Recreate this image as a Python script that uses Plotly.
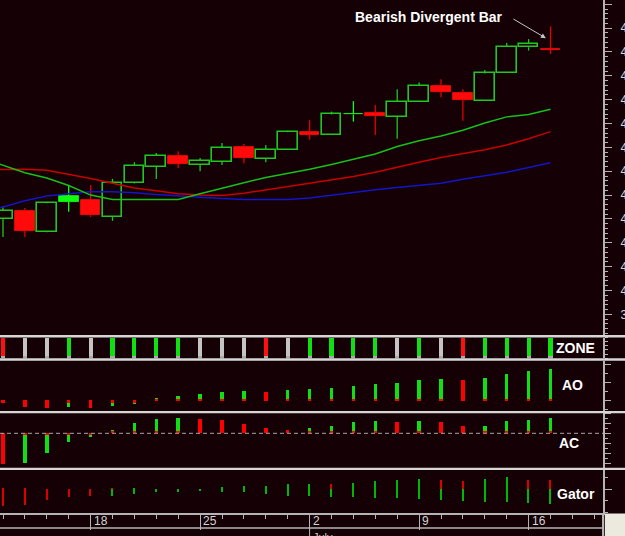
import plotly.graph_objects as go

# ---------------- data ----------------
idx = list(range(26))
opens  = [41.50, 41.67, 41.23, 41.98, 41.90, 41.54, 42.25, 42.59, 42.82, 42.63, 42.70, 43.01, 42.76,
          42.95, 43.32, 43.27, 43.71, 43.715, 43.64, 43.96, 44.29, 44.14, 43.98, 44.55, 45.10, 45.06]
highs  = [41.77, 41.73, 41.86, 42.21, 42.21, 42.34, 42.69, 42.88, 42.92, 42.78, 43.09, 43.07, 43.05,
          43.35, 43.57, 43.75, 43.97, 43.89, 44.22, 44.36, 44.43, 44.22, 44.62, 45.19, 45.27, 45.54]
lows   = [41.12, 41.12, 41.22, 41.65, 41.54, 41.46, 42.24, 42.34, 42.57, 42.50, 42.63, 42.67, 42.69,
          42.95, 43.16, 43.27, 43.54, 43.26, 43.18, 43.96, 44.05, 43.56, 43.98, 44.55, 45.03, 44.96]
closes = [41.67, 41.25, 41.83, 41.86, 41.58, 42.25, 42.61, 42.82, 42.65, 42.72, 42.99, 42.78, 42.95,
          43.32, 43.27, 43.69, 43.69, 43.665, 43.96, 44.29, 44.17, 44.00, 44.55, 45.11, 45.17, 45.05]
tone   = ["g", "r", "g", "g", "r", "g", "g", "g", "r", "g", "g", "r", "g",
          "g", "r", "g", "g", "r", "g", "g", "r", "r", "g", "g", "g", "r"]

line_x = list(range(-1, 26))
jaw   = [41.65, 41.75, 41.88, 41.98, 42.03, 42.07, 42.07, 42.05, 42.01, 41.98, 41.95, 41.93, 41.91, 41.91,
         41.91, 41.94, 42.00, 42.05, 42.11, 42.16, 42.20, 42.25, 42.33, 42.40, 42.48, 42.58, 42.68]
teeth = [42.53, 42.53, 42.54, 42.52, 42.44, 42.35, 42.25, 42.15, 42.09, 42.03, 42.00, 41.99, 42.04, 42.11,
         42.18, 42.24, 42.31, 42.39, 42.48, 42.59, 42.69, 42.79, 42.87, 42.95, 43.05, 43.18, 43.33]
lips  = [42.78, 42.62, 42.47, 42.36, 42.20, 42.00, 41.91, 41.91, 41.91, 41.91, 42.03, 42.15, 42.26, 42.37,
         42.45, 42.54, 42.64, 42.75, 42.86, 43.02, 43.14, 43.24, 43.36, 43.51, 43.64, 43.69, 43.80]

zone = ["r", "x", "x", "g", "x", "g", "g", "g", "g", "x", "x", "x", "r",
        "x", "g", "g", "g", "g", "x", "g", "x", "r", "g", "g", "g", "g"]

ao = [-0.03, -0.18, -0.21, -0.16, -0.21, -0.15, -0.08, 0.08, 0.13, 0.18, 0.25, 0.26, 0.24,
      0.29, 0.32, 0.34, 0.42, 0.47, 0.50, 0.56, 0.61, 0.58, 0.64, 0.74, 0.81, 0.86]
ao_tone = ["r", "r", "r", "g", "r", "g", "g", "g", "g", "g", "g", "g", "r",
           "g", "g", "g", "g", "g", "g", "g", "g", "r", "g", "g", "g", "g"]

ac = [-0.31, -0.30, -0.20, -0.09, -0.04, 0.03, 0.10, 0.14, 0.15, 0.14, 0.13, 0.09, 0.05,
      0.03, 0.05, 0.07, 0.11, 0.12, 0.11, 0.12, 0.115, 0.07, 0.075, 0.12, 0.13, 0.15]
ac_tone = ["r", "g", "g", "g", "g", "g", "g", "g", "g", "r", "r", "r", "r",
           "r", "g", "g", "g", "g", "r", "g", "r", "r", "g", "g", "g", "g"]

gator_up = [0.005, 0.005, 0.003, 0.003, 0.003, 0.007, 0.007, 0.0, 0.003, 0.003, 0.026, 0.036, 0.036,
            0.050, 0.053, 0.053, 0.066, 0.083, 0.090, 0.103, 0.093, 0.083, 0.103, 0.126, 0.093, 0.093]
gator_up_tone = ["r", "r", "r", "r", "r", "r", "g", "g", "g", "g", "g", "g", "g",
                 "g", "g", "r", "g", "g", "g", "g", "r", "r", "g", "g", "r", "r"]
gator_dn = [-0.167, -0.157, -0.107, -0.074, -0.064, -0.064, -0.047, -0.030, -0.030, -0.017, -0.024, -0.030, -0.047,
            -0.064, -0.064, -0.074, -0.074, -0.084, -0.090, -0.097, -0.107, -0.117, -0.130, -0.130, -0.134, -0.147]
gator_dn_tone = ["r", "r", "r", "r", "r", "g", "g", "g", "g", "g", "g", "g", "g",
                 "g", "g", "g", "g", "g", "g", "g", "g", "g", "g", "g", "g", "g"]

week_ticks = [4, 9, 14, 19, 24]
week_labels = ["18", "25", "2", "9", "16"]
month_tick = 14
month_label = "July"

# ---------------- style ----------------
BG = "#150006"
AXC = "#b4b4b4"
HOLLOW = "#1ec81e"
FGREEN = "#10ff10"
RED = "#ff0a0a"
WICK_RED = "#e00000"
TXT = "#ffffff"
FONT = "Liberation Sans, Arial, sans-serif"
PH = 513.0  # plot height in px
X_RANGE = [-0.137, 27.397]


def py(px):
    return 1 - px / PH


fig = go.Figure()

# ---- candle bodies ----
def body_trace(sel, fill, outline, lw):
    xs = [i for i in idx if sel(i)]
    base = [min(opens[i], closes[i]) for i in xs]
    hgt = [max(abs(closes[i] - opens[i]), 0.02) for i in xs]
    return go.Bar(x=xs, y=hgt, base=base, width=0.9, marker=dict(color=fill, line=dict(color=outline, width=lw)),
                  xaxis="x", yaxis="y", opacity=1, hoverinfo="skip")

fig.add_trace(body_trace(lambda i: closes[i] > opens[i], BG, HOLLOW, 1.6))
fig.add_trace(body_trace(lambda i: closes[i] <= opens[i] and tone[i] == "g", FGREEN, FGREEN, 0.8))
fig.add_trace(body_trace(lambda i: closes[i] <= opens[i] and tone[i] == "r", RED, RED, 0.8))

# ---- wicks ----
wick_groups = {HOLLOW: ([], []), FGREEN: ([], []), WICK_RED: ([], [])}
for i in idx:
    if tone[i] == "r":
        col = WICK_RED
    elif closes[i] > opens[i]:
        col = HOLLOW
    else:
        col = FGREEN
    top = max(opens[i], closes[i])
    bot = min(opens[i], closes[i])
    xs, ys = wick_groups[col]
    if highs[i] > top:
        xs += [i, i, None]
        ys += [top, highs[i], None]
    if lows[i] < bot:
        xs += [i, i, None]
        ys += [lows[i], bot, None]
for col, (xs, ys) in wick_groups.items():
    fig.add_trace(go.Scatter(x=xs, y=ys, mode="lines", line=dict(color=col, width=1.3),
                             xaxis="x", yaxis="y", hoverinfo="skip"))

# ---- alligator ----
for vals, col in [(jaw, "#1414c8"), (teeth, "#c80000"), (lips, "#18c018")]:
    fig.add_trace(go.Scatter(x=line_x, y=vals, mode="lines", line=dict(color=col, width=1.5),
                             xaxis="x", yaxis="y", hoverinfo="skip"))

# ---- zone ----
zcol = {"r": "#ff1010", "g": "#10e010", "x": "#c4c4c4"}
fig.add_trace(go.Bar(x=idx, y=[1] * len(idx), base=0, width=0.19,
                     marker=dict(color=[zcol[z] for z in zone], line=dict(width=0)),
                     xaxis="x2", yaxis="y2", opacity=1, hoverinfo="skip"))
fig.add_trace(go.Bar(x=idx, y=[0.15] * len(idx), base=0, width=0.19,
                     marker=dict(color="#a8a8a8", line=dict(width=0)),
                     xaxis="x2", yaxis="y2", opacity=1, hoverinfo="skip"))

# ---- AO ----
hcol = {"r": "#ff0000", "g": "#10e010"}
fig.add_trace(go.Bar(x=idx, y=ao, base=0, width=0.16,
                     marker=dict(color=[hcol[t] for t in ao_tone], line=dict(width=0)),
                     xaxis="x3", yaxis="y3", opacity=1, hoverinfo="skip"))
fig.add_trace(go.Bar(x=idx, y=[0.05 if v >= 0 else -0.05 for v in ao], base=0, width=0.16,
                     marker=dict(color="#ff0000", line=dict(width=0)),
                     xaxis="x3", yaxis="y3", opacity=1, hoverinfo="skip"))

# ---- AC ----
fig.add_trace(go.Bar(x=idx, y=ac, base=0, width=0.16,
                     marker=dict(color=[hcol[t] for t in ac_tone], line=dict(width=0)),
                     xaxis="x4", yaxis="y4", opacity=1, hoverinfo="skip"))
fig.add_trace(go.Bar(x=idx, y=[0.02 if v >= 0 else -0.02 for v in ac], base=0, width=0.16,
                     marker=dict(color="#ff0000", line=dict(width=0)),
                     xaxis="x4", yaxis="y4", opacity=1, hoverinfo="skip"))

# ---- Gator ----
gcol = {"r": "#d80000", "g": "#00b800"}
fig.add_trace(go.Bar(x=idx, y=gator_up, base=0, width=0.06,
                     marker=dict(color=[gcol[t] for t in gator_up_tone], line=dict(width=0)),
                     xaxis="x5", yaxis="y5", opacity=1, hoverinfo="skip"))
fig.add_trace(go.Bar(x=idx, y=gator_dn, base=0, width=0.06,
                     marker=dict(color=[gcol[t] for t in gator_dn_tone], line=dict(width=0)),
                     xaxis="x5", yaxis="y5", opacity=1, hoverinfo="skip"))

# ---------------- axes ----------------
hidden_x = dict(range=X_RANGE, showticklabels=False, ticks="", showgrid=False, zeroline=False,
                showline=False, domain=[0, 1], matches="x5")


def yax(domain, rng, anchor, **kw):
    d = dict(domain=domain, range=rng, anchor=anchor, side="right", showline=True, linecolor=AXC,
             linewidth=2, ticks="outside", tickcolor=AXC, tickwidth=1, showgrid=False, zeroline=False,
             automargin=False, showticklabels=False)
    d.update(kw)
    return d


layout = dict(
    width=625, height=536, margin=dict(l=0, r=22, t=0, b=23),
    paper_bgcolor=BG, plot_bgcolor=BG, showlegend=False, barmode="overlay", bargap=0,
    xaxis=dict(anchor="y", **hidden_x),
    xaxis2=dict(anchor="y2", **hidden_x),
    xaxis3=dict(anchor="y3", **hidden_x),
    xaxis4=dict(anchor="y4", **hidden_x),
    xaxis5=dict(anchor="y5", range=X_RANGE, domain=[0, 1], showgrid=False, zeroline=False,
                showline=True, linecolor=AXC, linewidth=1.5, ticks="outside", tickvals=week_ticks,
                ticklen=15, tickcolor=AXC, tickwidth=1, showticklabels=False,
                minor=dict(ticks="outside", dtick=1, tick0=0, ticklen=4, tickcolor=AXC, showgrid=False)),
    yaxis=yax([py(335), 1], [39.067, 46.09], "x", ticklen=7, dtick=0.5, tick0=39.5, tickformat=".2f",
              showticklabels=True, ticklabelstandoff=6,
              tickfont=dict(family=FONT, size=12, color="#d4d4d4"),
              minor=dict(ticks="outside", dtick=0.1, ticklen=3, tickcolor=AXC, showgrid=False)),
    yaxis2=yax([py(358.3), py(337.5)], [0, 1], "x2", ticklen=3, dtick=0.2),
    yaxis3=yax([py(411), py(360.7)], [-0.288, 1.093], "x3", ticklen=6, dtick=0.5, tick0=0,
               minor=dict(ticks="outside", dtick=0.25, ticklen=3, tickcolor=AXC, showgrid=False)),
    yaxis4=yax([py(467.7), py(413.3)], [-0.344, 0.20], "x4", ticklen=6, dtick=0.1, tick0=0,
               minor=dict(ticks="outside", dtick=0.05, ticklen=3, tickcolor=AXC, showgrid=False)),
    yaxis5=yax([0, py(470)], [-0.237, 0.193], "x5", ticklen=7, tickvals=[0],
               minor=dict(ticks="outside", dtick=0.115, tick0=0, ticklen=3, tickcolor=AXC, showgrid=False)),
)
fig.update_layout(**layout)

# ---------------- shapes ----------------
shapes = []
for a, b in [(335, 337.5), (358.3, 360.7), (411, 413.3), (467.7, 470)]:
    shapes.append(dict(type="rect", xref="paper", yref="paper", x0=0, x1=1.05, y0=py(b), y1=py(a),
                       fillcolor="#d6d6d6", line=dict(width=0), layer="above"))
# AC zero line
shapes.append(dict(type="line", xref="paper", yref="y4", x0=0, x1=1, y0=0, y1=0,
                   line=dict(color="#a8a8a8", width=1, dash="4px,3px")))
# bottom date axis frame
shapes.append(dict(type="line", xref="paper", yref="paper", x0=0, x1=1, y0=py(528), y1=py(528),
                   line=dict(color=AXC, width=1.5)))
shapes.append(dict(type="line", xref="paper", yref="paper", x0=1, x1=1, y0=py(513), y1=py(540),
                   line=dict(color=AXC, width=2)))
shapes.append(dict(type="line", xref="x5", yref="paper", x0=month_tick, x1=month_tick, y0=py(528), y1=py(540),
                   line=dict(color=AXC, width=1)))
shapes.append(dict(type="rect", xref="paper", yref="paper", x0=1.003, x1=1.05, y0=py(540), y1=py(513.5),
                   fillcolor="#ece9df", line=dict(width=0), layer="above"))
fig.update_layout(shapes=shapes)

# ---------------- annotations ----------------
ann = []
ann.append(dict(text="<b>Bearish Divergent Bar</b>", xref="paper", yref="paper", x=429 / 603, y=py(17),
                xanchor="center", yanchor="middle", showarrow=False,
                font=dict(family=FONT, size=14, color=TXT)))
ann.append(dict(text="", xref="x", yref="y", x=24.79, y=45.29, ax=-34, ay=-20, showarrow=True,
                arrowcolor="#c4c4c4", arrowwidth=1, arrowhead=2, arrowsize=1))
for label, cx, cy in [("ZONE", 575, 348), ("AO", 572.5, 385), ("AC", 568.5, 443), ("Gator", 576, 494)]:
    ann.append(dict(text="<b>%s</b>" % label, xref="paper", yref="paper", x=cx / 603, y=py(cy),
                    xanchor="center", yanchor="middle", showarrow=False,
                    font=dict(family=FONT, size=14, color=TXT)))
for t, lab in zip(week_ticks, week_labels):
    ann.append(dict(text=lab, xref="x5", yref="paper", x=t, y=py(521), xanchor="left", yanchor="middle",
                    xshift=1, showarrow=False, font=dict(family=FONT, size=12, color="#d4d4d4")))
ann.append(dict(text=month_label, xref="x5", yref="paper", x=month_tick, y=py(529), xanchor="left",
                yanchor="top", xshift=1, showarrow=False, font=dict(family=FONT, size=11, color="#d4d4d4")))
fig.update_layout(annotations=ann)

fig.write_html("out.html")
